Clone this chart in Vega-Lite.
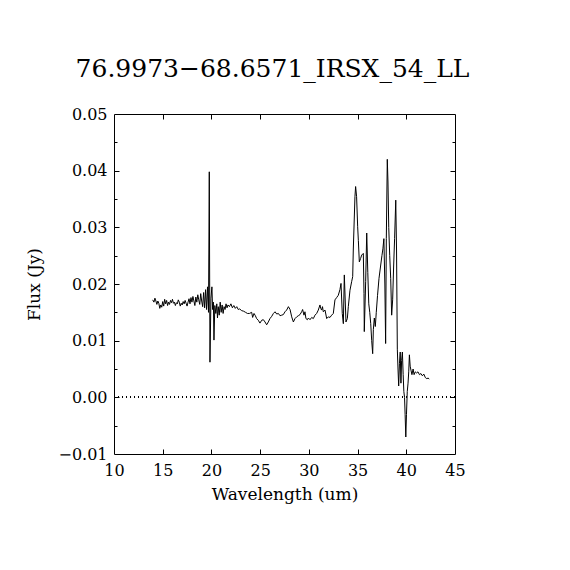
{
  "$schema": "https://vega.github.io/schema/vega-lite/v6.json",
  "width": 341,
  "height": 340,
  "autosize": {"type": "none"},
  "padding": {"left": 114, "top": 114, "right": 115, "bottom": 116},
  "background": "white",
  "config": {
    "view": {"stroke": "#000000", "strokeWidth": 1},
    "axis": {"grid": false, "domain": false, "labelFont": "DejaVu Serif", "labelFontSize": 16, "labelColor": "#000000", "titleFont": "DejaVu Serif", "titleFontSize": 17, "titleFontWeight": "normal", "titleColor": "#000000", "tickColor": "#000000"}
  },
  "title": {"text": "76.9973−68.6571_IRSX_54_LL", "font": "DejaVu Serif", "fontSize": 25, "fontWeight": "normal", "color": "#000000", "anchor": "middle", "offset": 24, "dx": -12},
  "data": {"values": [
    {"wavelength": 13.97, "flux": 0.0172},
    {"wavelength": 14.1, "flux": 0.0168},
    {"wavelength": 14.2, "flux": 0.0175},
    {"wavelength": 14.3, "flux": 0.0170},
    {"wavelength": 14.4, "flux": 0.0164},
    {"wavelength": 14.5, "flux": 0.0170},
    {"wavelength": 14.6, "flux": 0.0166},
    {"wavelength": 14.7, "flux": 0.0157},
    {"wavelength": 14.8, "flux": 0.0163},
    {"wavelength": 14.9, "flux": 0.0159},
    {"wavelength": 15.0, "flux": 0.0169},
    {"wavelength": 15.1, "flux": 0.0161},
    {"wavelength": 15.2, "flux": 0.0173},
    {"wavelength": 15.3, "flux": 0.0165},
    {"wavelength": 15.4, "flux": 0.0171},
    {"wavelength": 15.5, "flux": 0.0162},
    {"wavelength": 15.6, "flux": 0.0168},
    {"wavelength": 15.7, "flux": 0.0164},
    {"wavelength": 15.8, "flux": 0.0171},
    {"wavelength": 15.9, "flux": 0.0167},
    {"wavelength": 16.0, "flux": 0.0173},
    {"wavelength": 16.1, "flux": 0.0166},
    {"wavelength": 16.2, "flux": 0.0168},
    {"wavelength": 16.3, "flux": 0.0162},
    {"wavelength": 16.4, "flux": 0.0167},
    {"wavelength": 16.5, "flux": 0.0165},
    {"wavelength": 16.6, "flux": 0.0172},
    {"wavelength": 16.7, "flux": 0.0168},
    {"wavelength": 16.8, "flux": 0.0161},
    {"wavelength": 16.9, "flux": 0.0166},
    {"wavelength": 17.0, "flux": 0.0163},
    {"wavelength": 17.1, "flux": 0.0169},
    {"wavelength": 17.2, "flux": 0.0165},
    {"wavelength": 17.3, "flux": 0.0171},
    {"wavelength": 17.4, "flux": 0.0166},
    {"wavelength": 17.5, "flux": 0.0161},
    {"wavelength": 17.6, "flux": 0.0168},
    {"wavelength": 17.7, "flux": 0.0174},
    {"wavelength": 17.8, "flux": 0.0165},
    {"wavelength": 17.9, "flux": 0.0176},
    {"wavelength": 18.0, "flux": 0.0168},
    {"wavelength": 18.1, "flux": 0.0178},
    {"wavelength": 18.2, "flux": 0.0170},
    {"wavelength": 18.3, "flux": 0.0162},
    {"wavelength": 18.4, "flux": 0.0177},
    {"wavelength": 18.5, "flux": 0.0168},
    {"wavelength": 18.6, "flux": 0.0181},
    {"wavelength": 18.7, "flux": 0.0172},
    {"wavelength": 18.8, "flux": 0.0164},
    {"wavelength": 18.9, "flux": 0.0183},
    {"wavelength": 19.0, "flux": 0.0170},
    {"wavelength": 19.1, "flux": 0.0160},
    {"wavelength": 19.2, "flux": 0.0185},
    {"wavelength": 19.3, "flux": 0.0158},
    {"wavelength": 19.4, "flux": 0.0190},
    {"wavelength": 19.5, "flux": 0.0155},
    {"wavelength": 19.6, "flux": 0.0195},
    {"wavelength": 19.7, "flux": 0.0150},
    {"wavelength": 19.78, "flux": 0.0398},
    {"wavelength": 19.85, "flux": 0.0062},
    {"wavelength": 19.95, "flux": 0.0175},
    {"wavelength": 20.05, "flux": 0.0195},
    {"wavelength": 20.12, "flux": 0.0155},
    {"wavelength": 20.2, "flux": 0.0168},
    {"wavelength": 20.26, "flux": 0.0101},
    {"wavelength": 20.35, "flux": 0.0162},
    {"wavelength": 20.45, "flux": 0.0148},
    {"wavelength": 20.55, "flux": 0.0165},
    {"wavelength": 20.62, "flux": 0.0140},
    {"wavelength": 20.7, "flux": 0.0160},
    {"wavelength": 20.8, "flux": 0.0145},
    {"wavelength": 20.9, "flux": 0.0168},
    {"wavelength": 21.0, "flux": 0.0150},
    {"wavelength": 21.1, "flux": 0.0163},
    {"wavelength": 21.2, "flux": 0.0148},
    {"wavelength": 21.3, "flux": 0.0160},
    {"wavelength": 21.4, "flux": 0.0155},
    {"wavelength": 21.5, "flux": 0.0165},
    {"wavelength": 21.6, "flux": 0.0158},
    {"wavelength": 21.7, "flux": 0.0163},
    {"wavelength": 21.85, "flux": 0.0160},
    {"wavelength": 22.0, "flux": 0.0165},
    {"wavelength": 22.15, "flux": 0.0158},
    {"wavelength": 22.3, "flux": 0.0162},
    {"wavelength": 22.45, "flux": 0.0157},
    {"wavelength": 22.6, "flux": 0.0160},
    {"wavelength": 22.75, "flux": 0.0155},
    {"wavelength": 22.9, "flux": 0.0156},
    {"wavelength": 23.1, "flux": 0.0153},
    {"wavelength": 23.3, "flux": 0.0152},
    {"wavelength": 23.5, "flux": 0.0150},
    {"wavelength": 23.7, "flux": 0.0148},
    {"wavelength": 23.9, "flux": 0.0148},
    {"wavelength": 24.13, "flux": 0.0150},
    {"wavelength": 24.23, "flux": 0.0141},
    {"wavelength": 24.37, "flux": 0.0148},
    {"wavelength": 24.51, "flux": 0.0144},
    {"wavelength": 24.64, "flux": 0.0139},
    {"wavelength": 24.81, "flux": 0.0136},
    {"wavelength": 24.98, "flux": 0.0131},
    {"wavelength": 25.16, "flux": 0.0136},
    {"wavelength": 25.33, "flux": 0.0137},
    {"wavelength": 25.5, "flux": 0.0133},
    {"wavelength": 25.67, "flux": 0.0128},
    {"wavelength": 25.84, "flux": 0.0133},
    {"wavelength": 26.01, "flux": 0.0139},
    {"wavelength": 26.19, "flux": 0.0143},
    {"wavelength": 26.36, "flux": 0.0148},
    {"wavelength": 26.53, "flux": 0.0151},
    {"wavelength": 26.7, "flux": 0.0147},
    {"wavelength": 26.87, "flux": 0.0148},
    {"wavelength": 27.04, "flux": 0.0144},
    {"wavelength": 27.21, "flux": 0.0145},
    {"wavelength": 27.38, "flux": 0.0146},
    {"wavelength": 27.55, "flux": 0.0151},
    {"wavelength": 27.72, "flux": 0.0154},
    {"wavelength": 27.9, "flux": 0.0160},
    {"wavelength": 28.07, "flux": 0.0155},
    {"wavelength": 28.24, "flux": 0.0142},
    {"wavelength": 28.41, "flux": 0.0133},
    {"wavelength": 28.58, "flux": 0.0139},
    {"wavelength": 28.75, "flux": 0.0142},
    {"wavelength": 28.92, "flux": 0.0144},
    {"wavelength": 29.09, "flux": 0.0146},
    {"wavelength": 29.26, "flux": 0.0151},
    {"wavelength": 29.36, "flux": 0.0155},
    {"wavelength": 29.5, "flux": 0.0145},
    {"wavelength": 29.6, "flux": 0.0151},
    {"wavelength": 29.7, "flux": 0.0139},
    {"wavelength": 29.85, "flux": 0.0137},
    {"wavelength": 29.95, "flux": 0.0140},
    {"wavelength": 30.12, "flux": 0.0137},
    {"wavelength": 30.29, "flux": 0.0141},
    {"wavelength": 30.46, "flux": 0.0139},
    {"wavelength": 30.63, "flux": 0.0145},
    {"wavelength": 30.8, "flux": 0.0148},
    {"wavelength": 30.97, "flux": 0.0154},
    {"wavelength": 31.14, "flux": 0.0163},
    {"wavelength": 31.22, "flux": 0.0157},
    {"wavelength": 31.31, "flux": 0.0154},
    {"wavelength": 31.4, "flux": 0.0160},
    {"wavelength": 31.48, "flux": 0.0151},
    {"wavelength": 31.66, "flux": 0.0154},
    {"wavelength": 31.83, "flux": 0.0139},
    {"wavelength": 32.0, "flux": 0.0142},
    {"wavelength": 32.17, "flux": 0.0141},
    {"wavelength": 32.34, "flux": 0.0145},
    {"wavelength": 32.51, "flux": 0.0148},
    {"wavelength": 32.68, "flux": 0.0172},
    {"wavelength": 32.85, "flux": 0.0176},
    {"wavelength": 33.02, "flux": 0.0180},
    {"wavelength": 33.19, "flux": 0.0190},
    {"wavelength": 33.3, "flux": 0.0201},
    {"wavelength": 33.43, "flux": 0.0148},
    {"wavelength": 33.54, "flux": 0.0130},
    {"wavelength": 33.64, "flux": 0.0216},
    {"wavelength": 33.81, "flux": 0.0133},
    {"wavelength": 33.95, "flux": 0.0139},
    {"wavelength": 34.05, "flux": 0.0160},
    {"wavelength": 34.22, "flux": 0.0189},
    {"wavelength": 34.39, "flux": 0.0204},
    {"wavelength": 34.5, "flux": 0.0213},
    {"wavelength": 34.56, "flux": 0.0260},
    {"wavelength": 34.73, "flux": 0.0354},
    {"wavelength": 34.8, "flux": 0.0372},
    {"wavelength": 34.9, "flux": 0.0354},
    {"wavelength": 35.01, "flux": 0.0301},
    {"wavelength": 35.08, "flux": 0.0277},
    {"wavelength": 35.18, "flux": 0.0239},
    {"wavelength": 35.31, "flux": 0.0245},
    {"wavelength": 35.42, "flux": 0.0251},
    {"wavelength": 35.59, "flux": 0.0254},
    {"wavelength": 35.66, "flux": 0.0183},
    {"wavelength": 35.69, "flux": 0.0116},
    {"wavelength": 35.83, "flux": 0.0204},
    {"wavelength": 35.94, "flux": 0.0290},
    {"wavelength": 36.05, "flux": 0.0220},
    {"wavelength": 36.15, "flux": 0.0165},
    {"wavelength": 36.25, "flux": 0.0150},
    {"wavelength": 36.35, "flux": 0.0130},
    {"wavelength": 36.45, "flux": 0.0100},
    {"wavelength": 36.55, "flux": 0.0077},
    {"wavelength": 36.62, "flux": 0.0120},
    {"wavelength": 36.72, "flux": 0.0140},
    {"wavelength": 36.82, "flux": 0.0125},
    {"wavelength": 36.92, "flux": 0.0150},
    {"wavelength": 37.05, "flux": 0.0180},
    {"wavelength": 37.2, "flux": 0.0210},
    {"wavelength": 37.35, "flux": 0.0230},
    {"wavelength": 37.5, "flux": 0.0250},
    {"wavelength": 37.6, "flux": 0.0262},
    {"wavelength": 37.7, "flux": 0.0280},
    {"wavelength": 37.8, "flux": 0.0200},
    {"wavelength": 37.88, "flux": 0.0095},
    {"wavelength": 37.95, "flux": 0.0280},
    {"wavelength": 38.05, "flux": 0.0420},
    {"wavelength": 38.12, "flux": 0.0380},
    {"wavelength": 38.2, "flux": 0.0300},
    {"wavelength": 38.3, "flux": 0.0250},
    {"wavelength": 38.4, "flux": 0.0210},
    {"wavelength": 38.5, "flux": 0.0145},
    {"wavelength": 38.6, "flux": 0.0172},
    {"wavelength": 38.7, "flux": 0.0230},
    {"wavelength": 38.8, "flux": 0.0280},
    {"wavelength": 38.92, "flux": 0.0348},
    {"wavelength": 39.0, "flux": 0.0260},
    {"wavelength": 39.08, "flux": 0.0085},
    {"wavelength": 39.15, "flux": 0.0050},
    {"wavelength": 39.22, "flux": 0.0020},
    {"wavelength": 39.3, "flux": 0.0060},
    {"wavelength": 39.38, "flux": 0.0080},
    {"wavelength": 39.45, "flux": 0.0025},
    {"wavelength": 39.52, "flux": 0.0065},
    {"wavelength": 39.6, "flux": 0.0080},
    {"wavelength": 39.68, "flux": 0.0040},
    {"wavelength": 39.75, "flux": 0.0010},
    {"wavelength": 39.82, "flux": 0.0000},
    {"wavelength": 39.88, "flux": -0.0030},
    {"wavelength": 39.95, "flux": -0.0070},
    {"wavelength": 40.02, "flux": -0.0030},
    {"wavelength": 40.1, "flux": 0.0010},
    {"wavelength": 40.18, "flux": 0.0025},
    {"wavelength": 40.25, "flux": 0.0045},
    {"wavelength": 40.32, "flux": 0.0075},
    {"wavelength": 40.4, "flux": 0.0055},
    {"wavelength": 40.48, "flux": 0.0048},
    {"wavelength": 40.58, "flux": 0.0040},
    {"wavelength": 40.7, "flux": 0.0050},
    {"wavelength": 40.8, "flux": 0.0040},
    {"wavelength": 40.92, "flux": 0.0045},
    {"wavelength": 41.05, "flux": 0.0043},
    {"wavelength": 41.2, "flux": 0.0045},
    {"wavelength": 41.35, "flux": 0.0040},
    {"wavelength": 41.5, "flux": 0.0042},
    {"wavelength": 41.65, "flux": 0.0038},
    {"wavelength": 41.8, "flux": 0.0041},
    {"wavelength": 41.95, "flux": 0.0035},
    {"wavelength": 42.1, "flux": 0.0033},
    {"wavelength": 42.25, "flux": 0.0034},
    {"wavelength": 42.35, "flux": 0.0032}
  ]},
  "resolve": {"axis": {"x": "independent", "y": "independent"}},
  "layer": [
    {
      "mark": {"type": "rule", "stroke": "#000000", "strokeWidth": 1, "strokeDash": [1, 3]},
      "encoding": {"y": {"datum": 0, "type": "quantitative", "axis": null}}
    },
    {
      "mark": {"type": "line", "stroke": "#000000", "strokeWidth": 1, "interpolate": "linear"},
      "encoding": {
        "x": {"field": "wavelength", "type": "quantitative", "scale": {"domain": [10, 45], "nice": false, "zero": false},
          "axis": {"orient": "bottom", "values": [10, 15, 20, 25, 30, 35, 40, 45], "ticks": false, "labelPadding": 8, "labelFlush": false, "title": "Wavelength (um)", "titlePadding": 8}},
        "y": {"field": "flux", "type": "quantitative", "scale": {"domain": [-0.01, 0.05], "nice": false, "zero": false},
          "axis": {"orient": "left", "values": [-0.01, 0, 0.01, 0.02, 0.03, 0.04, 0.05], "format": ".2f", "ticks": false, "labelPadding": 7, "labelFlush": false, "title": "Flux (Jy)", "titlePadding": 14}}
      }
    },
    {
      "mark": {"type": "line", "strokeOpacity": 0},
      "encoding": {
        "x": {"field": "wavelength", "type": "quantitative", "axis": {"orient": "bottom", "values": [15, 20, 25, 30, 35, 40], "tickSize": -5, "labels": false, "title": null}},
        "y": {"field": "flux", "type": "quantitative", "axis": {"orient": "left", "values": [0, 0.01, 0.02, 0.03, 0.04], "tickSize": -5, "labels": false, "title": null}}
      }
    },
    {
      "mark": {"type": "line", "strokeOpacity": 0},
      "encoding": {
        "x": {"field": "wavelength", "type": "quantitative", "axis": {"orient": "top", "values": [15, 20, 25, 30, 35, 40], "tickSize": -5, "labels": false, "title": null}},
        "y": {"field": "flux", "type": "quantitative", "axis": {"orient": "right", "values": [0, 0.01, 0.02, 0.03, 0.04], "tickSize": -5, "labels": false, "title": null}}
      }
    },
    {
      "mark": {"type": "line", "strokeOpacity": 0},
      "encoding": {
        "x": {"field": "wavelength", "type": "quantitative", "axis": null},
        "y": {"field": "flux", "type": "quantitative", "axis": {"orient": "left", "values": [-0.005, 0.005, 0.015, 0.025, 0.035, 0.045], "tickSize": -3, "labels": false, "title": null}}
      }
    },
    {
      "mark": {"type": "line", "strokeOpacity": 0},
      "encoding": {
        "x": {"field": "wavelength", "type": "quantitative", "axis": null},
        "y": {"field": "flux", "type": "quantitative", "axis": {"orient": "right", "values": [-0.005, 0.005, 0.015, 0.025, 0.035, 0.045], "tickSize": -3, "labels": false, "title": null}}
      }
    }
  ]
}
